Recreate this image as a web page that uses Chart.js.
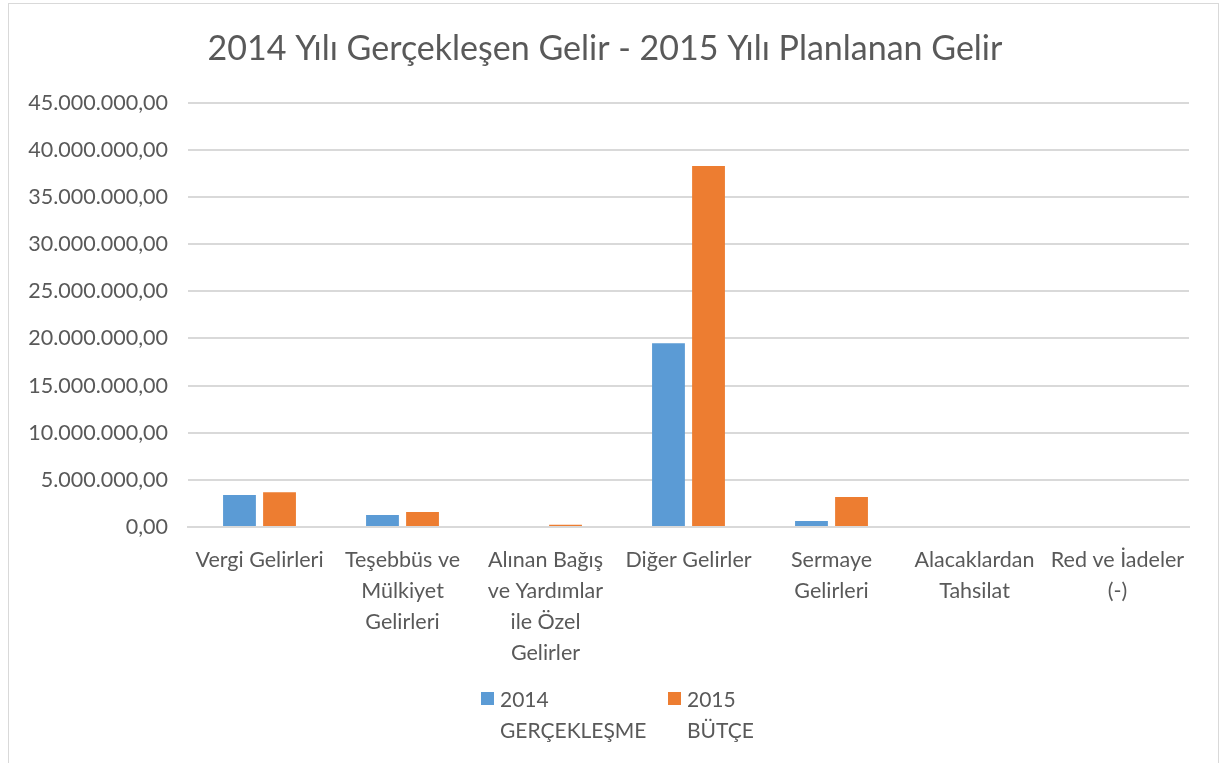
<!DOCTYPE html>
<html>
<head>
<meta charset="utf-8">
<script src="https://cdn.jsdelivr.net/npm/chart.js@4.4.1/dist/chart.umd.min.js"></script>
<style>
    body { margin: 0; background: #fff; }
    #wrap { position: absolute; left: 0; top: 0; width: 1219px; height: 763px; }
    #frame { position: absolute; left: 8px; top: 3px; width: 1209px; height: 780px; border: 1px solid #d9d9d9; }
    #legend { position: absolute; top: 683px; left: 0; width: 1219px; font-family: Lato, sans-serif; font-size: 21px; color: #595959; }
    .item { position: absolute; line-height: 31px; }
    .box { position: absolute; left: -19px; top: 9px; width: 13px; height: 13px; }
</style>
</head>
<body>
<div id="wrap">
    <div id="frame"></div>
    <canvas id="incomeChart" width="1219" height="763"></canvas>
    <div id="legend">
        <div class="item" style="left:500px"><span class="box" style="background:#5b9bd5"></span>2014<br>GERÇEKLEŞME</div>
        <div class="item" style="left:687px"><span class="box" style="background:#ed7d31"></span>2015<br>BÜTÇE</div>
    </div>
</div>
<script>
//categories and values
const categories = [
    "Vergi Gelirleri",
    ["Teşebbüs ve", "Mülkiyet", "Gelirleri"],
    ["Alınan Bağış", "ve Yardımlar", "ile Özel", "Gelirler"],
    "Diğer Gelirler",
    ["Sermaye", "Gelirleri"],
    ["Alacaklardan", "Tahsilat"],
    ["Red ve İadeler", "(-)"]
];
const actual2014 = [3400000, 1270000, 0, 19500000, 640000, 0, 0];
const budget2015 = [3680000, 1590000, 250000, 38300000, 3180000, 0, 0];

const grey = '#595959';

// 45000000 -> "45.000.000,00"
function formatTr(value) {
    const parts = Math.round(value).toString().replace(/\B(?=(\d{3})+(?!\d))/g, '.');
    return parts + ',00';
}

new Chart(document.querySelector("#incomeChart"), {
    type: 'bar',
    data: {
        labels: categories,
        datasets: [{
            label: '2014 GERÇEKLEŞME',
            data: actual2014,
            backgroundColor: '#5b9bd5'
        }, {
            label: '2015 BÜTÇE',
            data: budget2015,
            backgroundColor: '#ed7d31'
        }]
    },
    options: {
        responsive: false,
        animation: false,
        layout: {
            padding: { left: 21, right: 30, top: 0, bottom: 0 }
        },
        categoryPercentage: 0.56,
        barPercentage: 0.82,
        plugins: {
            legend: { display: false },
            tooltip: { enabled: false },
            title: {
                display: true,
                text: '2014 Yılı Gerçekleşen Gelir - 2015 Yılı Planlanan Gelir',
                color: grey,
                font: { family: 'Lato', size: 34, weight: 'normal' },
                padding: { top: 29, bottom: 33 }
            }
        },
        scales: {
            y: {
                min: 0,
                max: 45000000,
                ticks: {
                    stepSize: 5000000,
                    color: grey,
                    padding: 20,
                    font: { family: 'Lato', size: 21.5 },
                    callback: (value) => formatTr(value)
                },
                grid: { color: '#d9d9d9', lineWidth: 2, drawTicks: false },
                border: { display: false },
                afterFit: (scale) => { scale.width = 167; }
            },
            x: {
                ticks: {
                    color: grey,
                    padding: 10,
                    maxRotation: 0,
                    autoSkip: false,
                    font: { family: 'Lato', size: 21.5, lineHeight: 1.44 }
                },
                grid: { display: false },
                border: { color: '#d9d9d9', width: 2 },
                afterFit: (scale) => { scale.height = 236; }
            }
        }
    }
});
</script>
</body>
</html>
